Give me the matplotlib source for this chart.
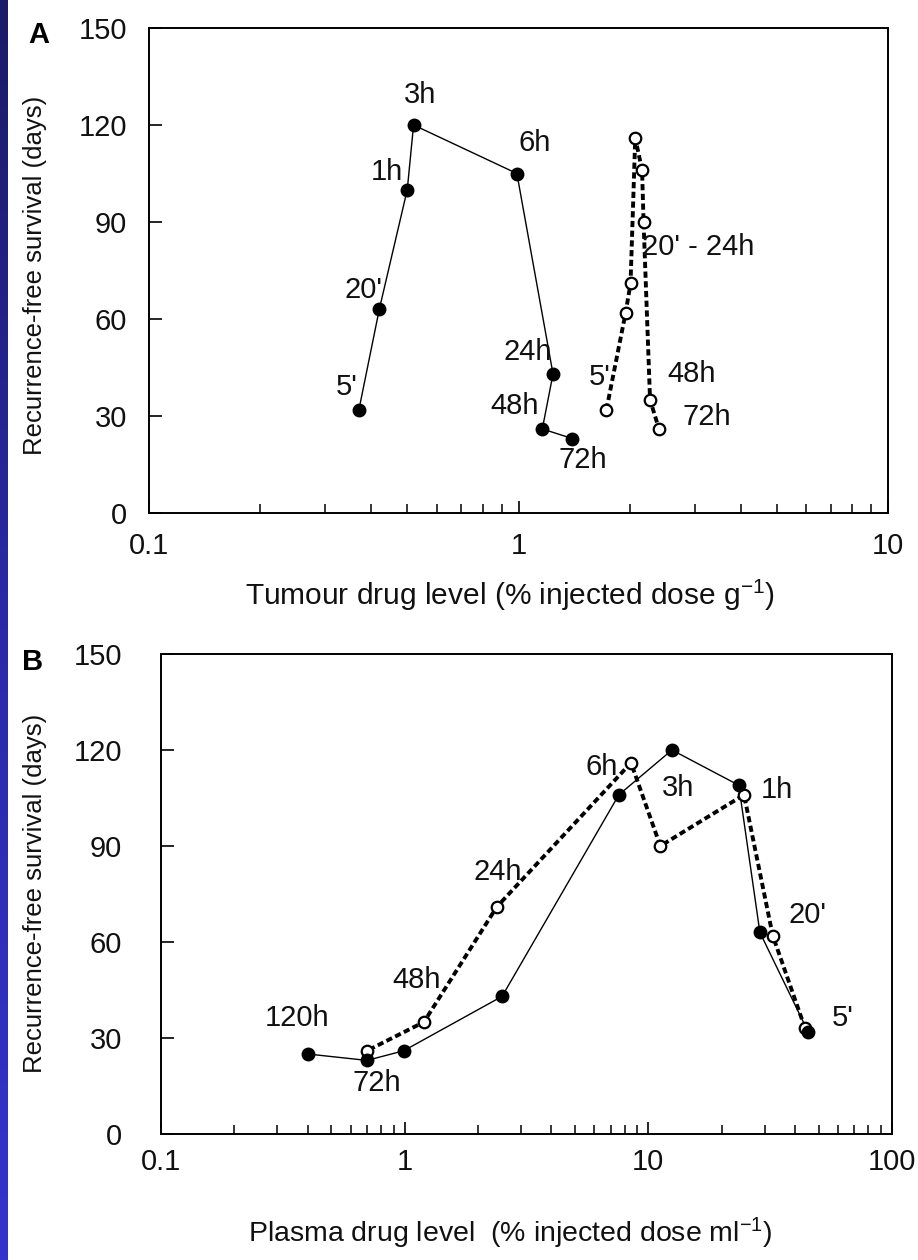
import numpy as np
import matplotlib
matplotlib.use("Agg")
import matplotlib.pyplot as plt
from matplotlib.ticker import LogLocator, NullFormatter, FixedLocator
from matplotlib.colors import LinearSegmentedColormap

plt.rcParams['font.family'] = ['Liberation Sans', 'DejaVu Sans']
plt.rcParams['mathtext.fontset'] = 'custom'
plt.rcParams['mathtext.rm'] = 'Liberation Sans'
plt.rcParams['mathtext.it'] = 'Liberation Sans'

# ---------------- data ----------------
# Panel A: tumour drug level (% injected dose / g) vs recurrence-free survival (days)
a_filled_x = [0.37, 0.42, 0.50, 0.52, 0.99, 1.24, 1.16, 1.40]
a_filled_y = [32, 63, 100, 120, 105, 43, 26, 23]
a_open_x = [1.73, 1.95, 2.01, 2.07, 2.16, 2.18, 2.27, 2.40]
a_open_y = [32, 62, 71, 116, 106, 90, 35, 26]

a_labels = ["3h", "1h", "20'", "5'", "6h", "24h", "48h", "72h",
            "20' - 24h", "5'", "48h", "72h"]
a_label_pos = [(0.541, 129.3), (0.441, 105.5), (0.380, 69.0), (0.343, 39.0),
               (1.109, 114.4), (1.061, 49.8), (0.978, 33.1), (1.495, 16.4),
               (3.06, 82.3), (1.662, 42.1), (2.95, 43.0), (3.24, 29.7)]

# Panel B: plasma drug level (% injected dose / ml) vs recurrence-free survival (days)
b_filled_x = [45.2, 28.7, 23.5, 12.5, 7.57, 2.51, 0.99, 0.70, 0.40]
b_filled_y = [32, 63, 109, 120, 106, 43, 26, 23, 25]
b_open_x = [44.0, 32.4, 24.7, 11.2, 8.49, 2.39, 1.20, 0.70]
b_open_y = [33, 62, 106, 90, 116, 71, 35, 26]

b_labels = ["120h", "72h", "48h", "24h", "6h", "3h", "1h", "20'", "5'"]
b_label_pos = [(0.361, 36.3), (0.769, 15.9), (1.123, 48.1), (2.415, 81.9),
               (6.45, 114.7), (13.2, 108.1), (33.7, 107.5), (45.2, 68.4),
               (62.9, 36.3)]

y_ticks = [0, 30, 60, 90, 120, 150]

W, H = 918, 1260
fig = plt.figure(figsize=(W / 100, H / 100), dpi=100)
fig.patch.set_facecolor('white')


def frac(x0, y0, x1, y1):
    return [x0 / W, 1 - y1 / H, (x1 - x0) / W, (y1 - y0) / H]


# blue strip on the left
strip = fig.add_axes(frac(0, 0, 8, H))
grad = np.linspace(0, 1, 256).reshape(-1, 1)
cm = LinearSegmentedColormap.from_list('strip', ['#1b1b66', '#2a2aa8', '#3434cc'])
strip.imshow(grad, aspect='auto', cmap=cm, extent=[0, 1, 0, 1])
strip.axis('off')


def style_axes(ax, xlim, ylab_pad, xlab_pad):
    ax.set_xscale('log')
    ax.set_xlim(*xlim)
    ax.set_ylim(0, 150)
    ax.yaxis.set_major_locator(FixedLocator(y_ticks))
    ax.set_yticklabels([str(v) for v in y_ticks])
    ax.xaxis.set_minor_locator(LogLocator(base=10, subs=np.arange(2, 10), numticks=10))
    ax.xaxis.set_minor_formatter(NullFormatter())
    for s in ax.spines.values():
        s.set_linewidth(1.4)
    ax.tick_params(axis='y', which='major', direction='in', length=9.5, width=1.2,
                   labelsize=21, pad=ylab_pad, right=False, labelcolor='#111111')
    ax.tick_params(axis='x', which='major', direction='in', length=9, width=1.2,
                   labelsize=21, pad=xlab_pad, top=False, labelcolor='#111111')
    ax.tick_params(axis='x', which='minor', direction='in', length=6.5, width=1.1,
                   top=False)
    decades = [10 ** k for k in range(int(np.log10(xlim[0])), int(np.log10(xlim[1])) + 1)]
    ax.set_xticks(decades)
    ax.set_xticklabels([('%g' % d) for d in decades])


def plot_series(ax, fx, fy, ox, oy):
    ax.plot(ox, oy, color='black', lw=2.8, linestyle=(0, (1.6, 0.9)), zorder=2)
    ax.plot(fx, fy, color='black', lw=1.0, zorder=2)
    ax.plot(ox, oy, linestyle='none', marker='o', ms=8.3, mfc='white', mec='black',
            mew=1.6, zorder=3)
    ax.plot(fx, fy, linestyle='none', marker='o', ms=9, mfc='black', mec='black',
            zorder=4)


# ---------------- Panel A ----------------
axA = fig.add_axes(frac(149, 28, 888, 513))
style_axes(axA, (0.1, 10), 16, 14)
plot_series(axA, a_filled_x, a_filled_y, a_open_x, a_open_y)
for t, (x, y) in zip(a_labels, a_label_pos):
    axA.text(x, y, t, fontsize=21, ha='center', va='center', color='#111111', zorder=5)

# ---------------- Panel B ----------------
axB = fig.add_axes(frac(161, 654, 892, 1134))
style_axes(axB, (0.1, 100), 28, 10)
plot_series(axB, b_filled_x, b_filled_y, b_open_x, b_open_y)
for t, (x, y) in zip(b_labels, b_label_pos):
    axB.text(x, y, t, fontsize=21, ha='center', va='center', color='#111111', zorder=5)

# axis labels and panel letters
ylab = 'Recurrence-free survival (days)'
fig.text(35 / W, 1 - 275 / H, ylab, rotation=90, fontsize=18.5, ha='center', va='center',
         color='#111111')
fig.text(35 / W, 1 - 893 / H, ylab, rotation=90, fontsize=18.5, ha='center', va='center',
         color='#111111')
fig.text(510 / W, 1 - 595 / H, r'Tumour drug level (% injected dose g$^{-1}$)',
         fontsize=21.5, ha='center', va='center', color='#111111')
fig.text(510 / W, 1 - 1233 / H, r'Plasma drug level  (% injected dose ml$^{-1}$)',
         fontsize=20.5, ha='center', va='center', color='#111111')
fig.text(39 / W, 1 - 35 / H, 'A', fontsize=21, fontweight='bold', ha='center', va='center')
fig.text(33 / W, 1 - 662 / H, 'B', fontsize=21, fontweight='bold', ha='center', va='center')

fig.savefig('out.png', dpi=100, facecolor='white')
